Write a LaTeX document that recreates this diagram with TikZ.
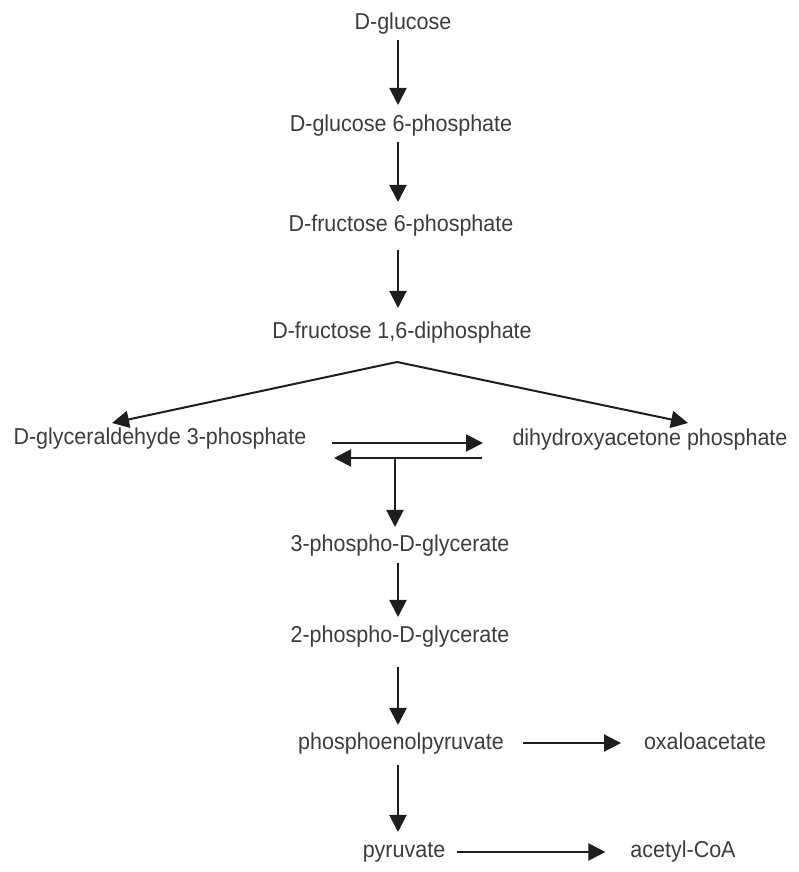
\documentclass[tikz,border=0pt]{standalone}
\usepackage{fontspec}
\setmainfont[FakeStretch=0.935]{Liberation Sans}
\usetikzlibrary{arrows.meta}
\definecolor{txt}{HTML}{3C3C3C}
\definecolor{ln}{HTML}{1E1E1E}
\begin{document}
\begin{tikzpicture}[x=1bp,y=1bp,
  lbl/.style={anchor=base, inner sep=0pt, outer sep=0pt, text height=17bp, text depth=5bp,
    font=\fontsize{23bp}{26bp}\selectfont, text=txt},
  arr/.style={draw=ln, line width=2bp, -{Triangle[width=17bp,length=17bp]}}]
\useasboundingbox (0,0) rectangle (799,872);
\node[lbl] (glc)  at (403,842) {D-glucose};
\node[lbl] (g6p)  at (401,740) {D-glucose 6-phosphate};
\node[lbl] (f6p)  at (401,640) {D-fructose 6-phosphate};
\node[lbl] (fbp)  at (402,533) {D-fructose 1,6-diphosphate};
\node[lbl] (gap)  at (160,427) {D-glyceraldehyde 3-phosphate};
\node[lbl] (dhap) at (650,426) {dihydroxyacetone phosphate};
\node[lbl] (pg3)  at (400,320) {3-phospho-D-glycerate};
\node[lbl] (pg2)  at (400,229) {2-phospho-D-glycerate};
\node[lbl] (pep)  at (401,122) {phosphoenolpyruvate};
\node[lbl] (oaa)  at (705,122) {oxaloacetate};
\node[lbl] (pyr)  at (404,14)  {pyruvate};
\node[lbl] (acoa) at (683,14)  {acetyl-CoA};
\coordinate (axis) at (398,0);
\coordinate (apex) at (397,510);
\coordinate (gaptip) at (112,449);
\coordinate (dhaptip) at (688,449);
\coordinate (eqTL) at (332,429);
\coordinate (eqTR) at (483,429);
\coordinate (eqBR) at (482,414);
\coordinate (eqBL) at (334,414);
\coordinate (eqmid) at (395,414);
\draw[arr, shorten <=5bp, shorten >=10bp] (glc.south -| axis) -- (g6p.north -| axis);
\draw[arr, shorten <=5bp, shorten >=13bp] (g6p.south -| axis) -- (f6p.north -| axis);
\draw[arr, shorten <=13bp, shorten >=14bp] (f6p.south -| axis) -- (fbp.north -| axis);
\draw[arr] (apex) -- (gaptip);
\draw[arr] (apex) -- (dhaptip);
\draw[arr] (eqTL) -- (eqTR);
\draw[arr] (eqBR) -- (eqBL);
\draw[arr, shorten >=8bp] (eqmid) -- (pg3.north -| eqmid);
\draw[arr, shorten <=6bp, shorten >=9bp] (pg3.south -| axis) -- (pg2.north -| axis);
\draw[arr, shorten <=19bp, shorten >=8bp] (pg2.south -| axis) -- (pep.north -| axis);
\draw[arr, shorten <=10bp, shorten >=9bp] (pep.south -| axis) -- (pyr.north -| axis);
\draw[arr, shorten <=19bp, shorten >=23bp] ([yshift=7bp]pep.base east) -- ([yshift=7bp]oaa.base west);
\draw[arr, shorten <=12bp, shorten >=25bp] ([yshift=6bp]pyr.base east) -- ([yshift=6bp]acoa.base west);
\end{tikzpicture}
\end{document}
